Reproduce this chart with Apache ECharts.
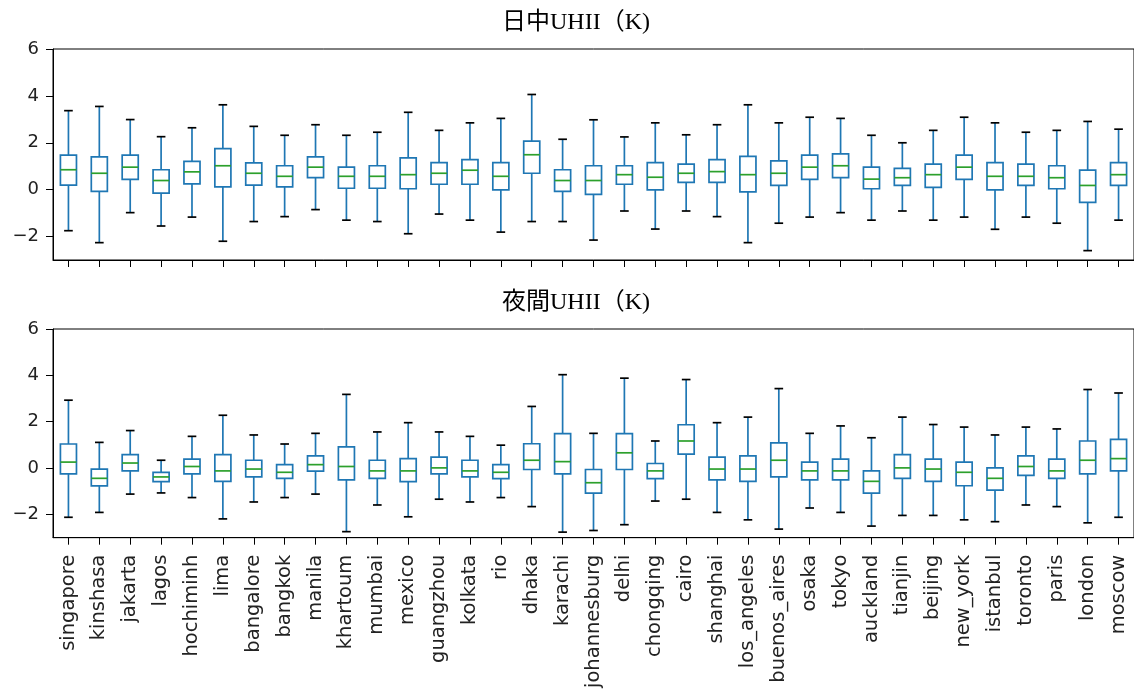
<!DOCTYPE html>
<html>
<head>
<meta charset="utf-8">
<script src="https://cdn.jsdelivr.net/npm/echarts@6/dist/echarts.min.js"></script>
<style>
  html, body { margin: 0; padding: 0; background: #fff; }
  #chart { width: 1134px; height: 691px; }
</style>
</head>
<body>
<div id="chart"></div>
<script>
// City order along the x axis
const cities = ['singapore','kinshasa','jakarta','lagos','hochiminh','lima','bangalore','bangkok','manila','khartoum','mumbai','mexico','guangzhou','kolkata','rio','dhaka','karachi','johannesburg','delhi','chongqing','cairo','shanghai','los_angeles','buenos_aires','osaka','tokyo','auckland','tianjin','beijing','new_york','istanbul','toronto','paris','london','moscow'];

// Daytime UHII (K): whisker low, Q1, median, Q3, whisker high
const dayLow  = [-1.75,-2.26,-0.98,-1.55,-1.17,-2.20,-1.36,-1.15,-0.85,-1.30,-1.36,-1.88,-1.04,-1.30,-1.81,-1.36,-1.36,-2.15,-0.91,-1.68,-0.91,-1.15,-2.26,-1.43,-1.17,-0.98,-1.30,-0.91,-1.30,-1.17,-1.69,-1.17,-1.43,-2.60,-1.30];
const dayQ1   = [0.19,-0.07,0.44,-0.15,0.25,0.12,0.19,0.12,0.51,0.06,0.06,0.04,0.23,0.23,-0.01,0.70,-0.07,-0.20,0.23,-0.01,0.31,0.31,-0.09,0.18,0.44,0.51,0.04,0.18,0.10,0.44,-0.01,0.18,0.04,-0.54,0.18];
const dayMed  = [0.85,0.70,0.96,0.39,0.76,1.02,0.70,0.57,0.96,0.57,0.57,0.64,0.70,0.83,0.57,1.49,0.39,0.39,0.64,0.53,0.70,0.77,0.64,0.70,0.96,1.02,0.45,0.51,0.64,0.96,0.57,0.57,0.51,0.18,0.64];
const dayQ3   = [1.47,1.40,1.47,0.85,1.21,1.75,1.14,1.02,1.40,0.96,1.02,1.36,1.15,1.28,1.15,2.07,0.85,1.02,1.02,1.15,1.09,1.28,1.42,1.23,1.47,1.53,0.96,0.91,1.09,1.47,1.15,1.09,1.02,0.83,1.15];
const dayHigh = [3.37,3.55,2.99,2.26,2.64,3.62,2.70,2.32,2.77,2.32,2.45,3.30,2.53,2.85,3.04,4.06,2.15,2.98,2.25,2.85,2.34,2.77,3.62,2.85,3.09,3.04,2.32,2.00,2.53,3.09,2.85,2.45,2.53,2.91,2.58];

// Night-time UHII (K): whisker low, Q1, median, Q3, whisker high
const nightLow  = [-2.12,-1.91,-1.12,-1.07,-1.27,-2.19,-1.46,-1.27,-1.12,-2.74,-1.59,-2.10,-1.34,-1.46,-1.27,-1.66,-2.76,-2.69,-2.44,-1.42,-1.34,-1.91,-2.23,-2.63,-1.72,-1.91,-2.50,-2.04,-2.04,-2.23,-2.31,-1.59,-1.66,-2.36,-2.12];
const nightQ1   = [-0.25,-0.77,-0.12,-0.58,-0.25,-0.57,-0.38,-0.44,-0.13,-0.51,-0.44,-0.58,-0.25,-0.38,-0.45,-0.06,-0.25,-1.08,-0.06,-0.45,0.60,-0.51,-0.57,-0.38,-0.51,-0.51,-1.08,-0.44,-0.57,-0.76,-0.95,-0.31,-0.44,-0.25,-0.12];
const nightMed  = [0.26,-0.44,0.22,-0.38,0.07,-0.12,-0.04,-0.18,0.15,0.07,-0.12,-0.12,0.01,-0.12,-0.18,0.34,0.28,-0.63,0.66,-0.12,1.17,-0.04,-0.04,0.34,-0.12,-0.12,-0.57,0.01,-0.04,-0.18,-0.44,0.07,-0.12,0.34,0.41];
const nightQ3   = [1.04,-0.04,0.58,-0.18,0.39,0.58,0.34,0.15,0.53,0.92,0.34,0.41,0.47,0.34,0.15,1.05,1.49,-0.06,1.49,0.20,1.87,0.47,0.53,1.09,0.26,0.39,-0.12,0.58,0.39,0.26,0.01,0.53,0.39,1.17,1.24];
const nightHigh = [2.93,1.11,1.62,0.34,1.37,2.28,1.43,1.04,1.50,3.18,1.56,1.96,1.56,1.37,0.99,2.66,4.03,1.50,3.88,1.17,3.82,1.96,2.20,3.43,1.50,1.82,1.31,2.20,1.88,1.77,1.43,1.77,1.69,3.39,3.24];

const yTicks = [-2, 0, 2, 4, 6];

const BOX_COLOR = '#1f77b4';
const MEDIAN_COLOR = '#2ca02c';
const CAP_COLOR = '#000000';
const LW = 1.7;

function rows(low, q1, med, q3, high) {
  return cities.map((c, i) => [i, low[i], q1[i], med[i], q3[i], high[i]]);
}

// Box-and-whisker glyph: blue box and whiskers, black caps, green median
function renderBox(params, api) {
  const idx = api.value(0);
  const band = api.size([1, 0])[0];
  const half = band * 0.26;
  const capHalf = band * 0.14;
  const pLow = api.coord([idx, api.value(1)]);
  const pQ1 = api.coord([idx, api.value(2)]);
  const pMed = api.coord([idx, api.value(3)]);
  const pQ3 = api.coord([idx, api.value(4)]);
  const pHigh = api.coord([idx, api.value(5)]);
  const x = pMed[0];
  const line = (x1, y1, x2, y2, color) => ({
    type: 'line',
    shape: { x1, y1, x2, y2 },
    style: { stroke: color, lineWidth: LW }
  });
  return {
    type: 'group',
    children: [
      line(x, pQ3[1], x, pHigh[1], BOX_COLOR),
      line(x, pQ1[1], x, pLow[1], BOX_COLOR),
      line(x - capHalf, pHigh[1], x + capHalf, pHigh[1], CAP_COLOR),
      line(x - capHalf, pLow[1], x + capHalf, pLow[1], CAP_COLOR),
      {
        type: 'rect',
        shape: { x: x - half, y: pQ3[1], width: half * 2, height: pQ1[1] - pQ3[1] },
        style: { fill: 'none', stroke: BOX_COLOR, lineWidth: LW }
      },
      line(x - half, pMed[1], x + half, pMed[1], MEDIAN_COLOR)
    ]
  };
}

const LABEL_FONT = 'DejaVu Sans';
const TITLE_FONT = "24px 'Liberation Serif', 'Noto Sans CJK JP', serif";

function yAxisFor(gridIndex) {
  return {
    type: 'value',
    gridIndex,
    min: -3,
    max: 6,
    axisLine: { show: true, lineStyle: { color: '#000', width: 1 } },
    axisTick: { show: true, length: 7, customValues: yTicks, lineStyle: { color: '#000' } },
    axisLabel: {
      customValues: yTicks,
      fontFamily: LABEL_FONT,
      fontSize: 18,
      color: '#222',
      margin: 14,
      formatter: v => String(v).replace('-', '\u2212')
    },
    splitLine: { show: false }
  };
}

function xAxisFor(gridIndex, showLabels) {
  return {
    type: 'category',
    gridIndex,
    data: cities,
    boundaryGap: true,
    axisLine: { show: true, onZero: false, lineStyle: { color: '#000', width: 1 } },
    axisTick: { show: true, alignWithLabel: true, length: 7, lineStyle: { color: '#000' } },
    axisLabel: {
      show: showLabels,
      interval: 0,
      rotate: 90,
      fontFamily: LABEL_FONT,
      fontSize: 19.5,
      color: '#222',
      margin: 17
    },
    splitLine: { show: false }
  };
}

const chart = echarts.init(document.getElementById('chart'), null, { renderer: 'canvas' });

chart.setOption({
  animation: false,
  backgroundColor: '#fff',
  grid: [
    { left: 53, top: 49, width: 1084, height: 211, show: true, borderColor: '#000', borderWidth: 1, backgroundColor: 'transparent' },
    { left: 53, top: 329, width: 1084, height: 211, show: true, borderColor: '#000', borderWidth: 1, backgroundColor: 'transparent' }
  ],
  xAxis: [xAxisFor(0, false), xAxisFor(1, true)],
  yAxis: [yAxisFor(0), yAxisFor(1)],
  graphic: [
    { type: 'text', x: 576, y: 23, style: { text: '日中UHII（K)', font: TITLE_FONT, fill: '#000', textAlign: 'center', textVerticalAlign: 'middle' } },
    { type: 'text', x: 576, y: 303, style: { text: '夜間UHII（K)', font: TITLE_FONT, fill: '#000', textAlign: 'center', textVerticalAlign: 'middle' } }
  ],
  series: [
    {
      name: '日中UHII', type: 'custom', xAxisIndex: 0, yAxisIndex: 0,
      renderItem: renderBox,
      encode: { x: 0, y: [1, 2, 3, 4, 5] },
      data: rows(dayLow, dayQ1, dayMed, dayQ3, dayHigh)
    },
    {
      name: '夜間UHII', type: 'custom', xAxisIndex: 1, yAxisIndex: 1,
      renderItem: renderBox,
      encode: { x: 0, y: [1, 2, 3, 4, 5] },
      data: rows(nightLow, nightQ1, nightMed, nightQ3, nightHigh)
    }
  ]
});
</script>
</body>
</html>
